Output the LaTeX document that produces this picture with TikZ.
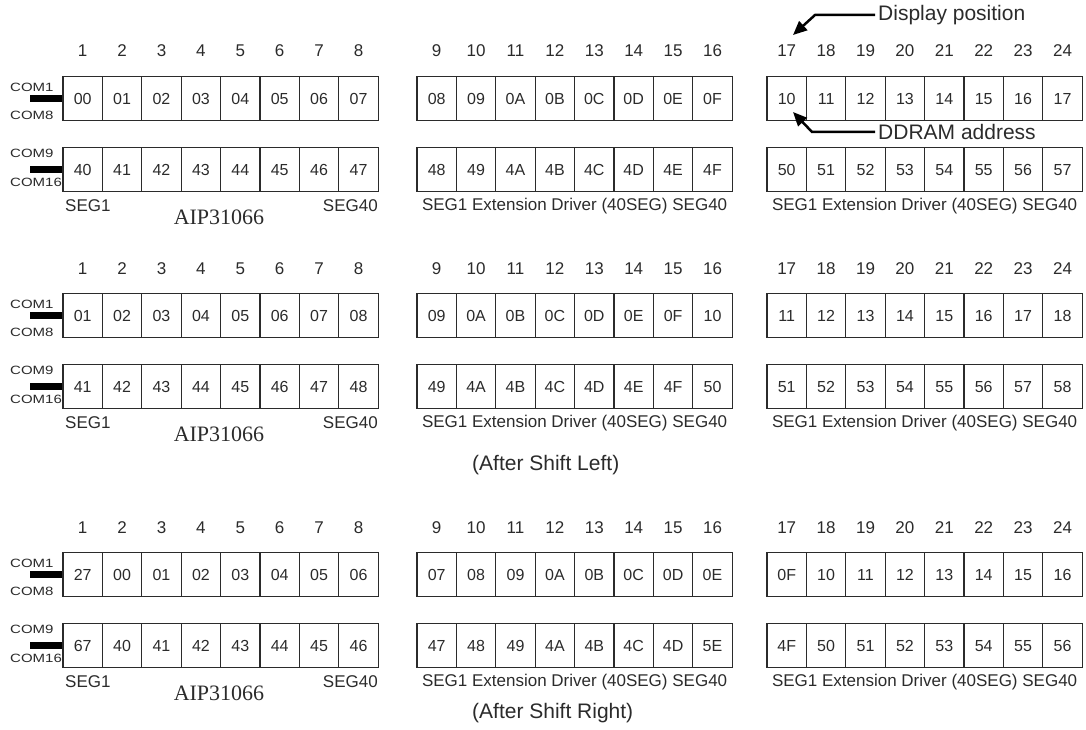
\documentclass[tikz,border=0pt]{standalone}
\usepackage{fontspec}
\setmainfont{Liberation Sans}
\newfontfamily\chipfont{Liberation Serif}
\newfontfamily\comfont[FakeStretch=1.25]{Liberation Sans}
\usetikzlibrary{arrows.meta}
\definecolor{ink}{HTML}{2B2B2B}
\tikzset{
  cell/.style={rectangle, draw=ink, line width=1.1pt, minimum width=39.4pt,
               minimum height=44pt, inner sep=0pt, text=ink,
               text height=11.5pt, text depth=0pt,
               font=\fontsize{16}{18}\selectfont},
  colnum/.style={inner sep=1pt, text=ink, text height=12pt, text depth=0pt,
                 font=\fontsize{17}{19}\selectfont},
  comlbl/.style={anchor=west, inner sep=0pt, text=ink, font=\comfont\fontsize{12}{13}\selectfont},
  combar/.style={line width=7pt, draw=black},
  seglbl/.style={inner sep=0pt, text=ink, font=\fontsize{17}{19}\selectfont},
  chiplbl/.style={inner sep=0pt, text=ink, font=\chipfont\fontsize{22}{24}\selectfont},
  shiftlbl/.style={anchor=west, inner sep=0pt, text=ink, font=\fontsize{21}{23}\selectfont},
  notelbl/.style={anchor=west, inner sep=0pt, text=ink, font=\fontsize{21}{23}\selectfont},
  notearrow/.style={-{Triangle[length=14pt,width=12pt]}, line width=2.5pt, draw=black}
}
% one row of eight DDRAM cells: name, left x, centre y, entries
\newcommand{\cellrow}[4]{%
  \foreach \v [count=\j] in {#4}
    \node[cell] (#1\j) at ({#2+(\j-0.5)*39.4},#3) {\v};}
% column numbers, COM lines and driver labels of one panel
\newcommand{\panelframe}[1]{%
  \foreach \bx [count=\b from 0] in {63,417,767}
    \foreach \k in {1,...,8} {
      \pgfmathtruncatemacro{\n}{8*\b+\k}
      \node[colnum] (#1n\n) at ({\bx+(\k-0.5)*39.4},51) {\n};
    }
  \node[comlbl] (#1com1) at (10,87) {COM1};
  \node[comlbl] (#1com8) at (10,115) {COM8};
  \node[comlbl] (#1com9) at (10,153) {COM9};
  \node[comlbl] (#1com16) at (10,182) {COM16};
  \coordinate (#1barT) at (30,98.5);
  \coordinate (#1barB) at (30,169.5);
  \draw[combar] (#1barT) -- (#1tL1.west);
  \draw[combar] (#1barB) -- (#1bL1.west);
  \node[seglbl, anchor=west] (#1seg1) at (65,206) {SEG1};
  \node[chiplbl] (#1chip) at (219,217) {AIP31066};
  \node[seglbl, anchor=east] (#1seg40) at (378,206) {SEG40};
  \node[seglbl] (#1extM) at (574.6,206) {SEG1 Extension Driver (40SEG) SEG40};
  \node[seglbl] (#1extR) at (924.6,206) {SEG1 Extension Driver (40SEG) SEG40};
}

\begin{document}
\begin{tikzpicture}[x=1pt,y=-1pt]
  \useasboundingbox (0,0) rectangle (1086,730);

  % before shifting
  \begin{scope}
    \cellrow{p1tL}{63}{98.5}{00,01,02,03,04,05,06,07}
    \cellrow{p1tM}{417}{98.5}{08,09,0A,0B,0C,0D,0E,0F}
    \cellrow{p1tR}{767}{98.5}{10,11,12,13,14,15,16,17}
    \cellrow{p1bL}{63}{169.5}{40,41,42,43,44,45,46,47}
    \cellrow{p1bM}{417}{169.5}{48,49,4A,4B,4C,4D,4E,4F}
    \cellrow{p1bR}{767}{169.5}{50,51,52,53,54,55,56,57}
    \panelframe{p1}
  \end{scope}

  % after shift left
  \begin{scope}[yshift=-217pt]
    \cellrow{p2tL}{63}{98.5}{01,02,03,04,05,06,07,08}
    \cellrow{p2tM}{417}{98.5}{09,0A,0B,0C,0D,0E,0F,10}
    \cellrow{p2tR}{767}{98.5}{11,12,13,14,15,16,17,18}
    \cellrow{p2bL}{63}{169.5}{41,42,43,44,45,46,47,48}
    \cellrow{p2bM}{417}{169.5}{49,4A,4B,4C,4D,4E,4F,50}
    \cellrow{p2bR}{767}{169.5}{51,52,53,54,55,56,57,58}
    \panelframe{p2}
  \end{scope}
  \node[shiftlbl] (leftcap) at (472,465) {(After Shift Left)};

  % after shift right
  \begin{scope}[yshift=-476pt]
    \cellrow{p3tL}{63}{98.5}{27,00,01,02,03,04,05,06}
    \cellrow{p3tM}{417}{98.5}{07,08,09,0A,0B,0C,0D,0E}
    \cellrow{p3tR}{767}{98.5}{0F,10,11,12,13,14,15,16}
    \cellrow{p3bL}{63}{169.5}{67,40,41,42,43,44,45,46}
    \cellrow{p3bM}{417}{169.5}{47,48,49,4A,4B,4C,4D,5E}
    \cellrow{p3bR}{767}{169.5}{4F,50,51,52,53,54,55,56}
    \panelframe{p3}
  \end{scope}
  \node[shiftlbl] (rightcap) at (472,713) {(After Shift Right)};

  % callouts
  \node[notelbl] (dispnote) at (878,15) {Display position};
  \node[notelbl] (ddnote) at (878,132) {DDRAM address};
  \coordinate (dispbend) at (815,15);
  \coordinate (disptip) at (793,35);
  \coordinate (ddbend) at (812,132);
  \coordinate (ddtip) at (793,112);
  \draw[notearrow] ([xshift=-3pt]dispnote.west) -- (dispbend) -- (disptip);
  \draw[notearrow] ([xshift=-3pt]ddnote.west) -- (ddbend) -- (ddtip);
\end{tikzpicture}
\end{document}
